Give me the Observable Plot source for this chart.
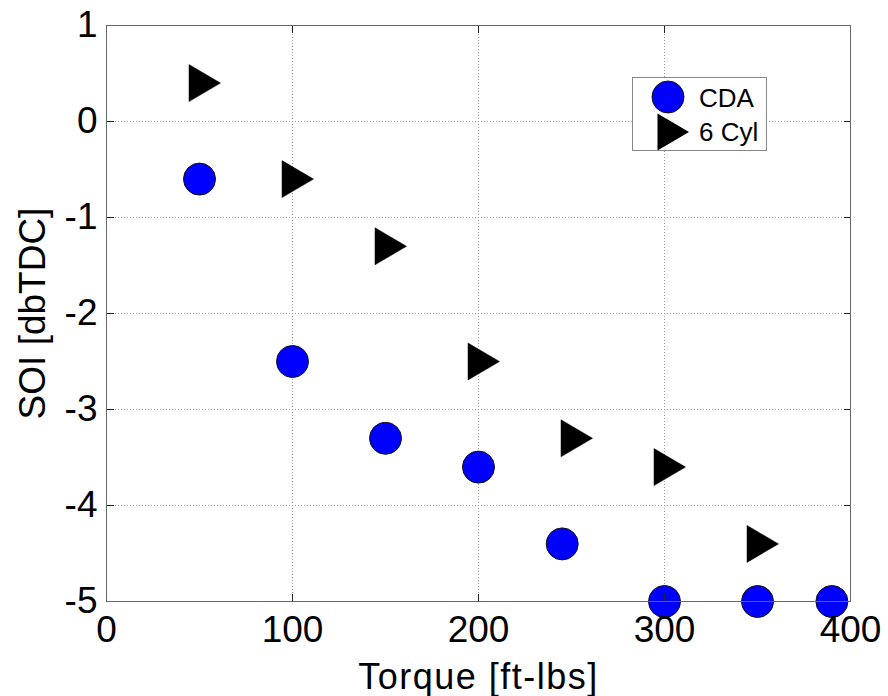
<!DOCTYPE html>
<html>
<head>
<meta charset="utf-8">
<script src="https://cdn.jsdelivr.net/npm/d3@7"></script>
<script src="https://cdn.jsdelivr.net/npm/@observablehq/plot@0.6"></script>
<style>
  html, body { margin: 0; padding: 0; background: #fff; }
  #wrap { position: relative; width: 888px; height: 696px; }
  #legend { position: absolute; left: 632px; top: 77px; width: 135px; height: 74px;
            background: #fff; border: 1px solid #888; box-sizing: border-box; }
  #legend svg { display: block; }
</style>
</head>
<body>
<div id="wrap"></div>
<script>
// ---- data ----
const seriesNames = ["CDA", "6 Cyl"];
const torqueCDA = [50, 100, 150, 200, 245, 300, 350, 390];
const soiCDA = [-0.6, -2.5, -3.3, -3.6, -4.4, -5, -5, -5];
const torque6Cyl = [50, 100, 150, 200, 250, 300, 350];
const soi6Cyl = [0.4, -0.6, -1.3, -2.5, -3.3, -3.6, -4.4];
const xTicks = [0, 100, 200, 300, 400];
const yTicks = [-5, -4, -3, -2, -1, 0, 1];
const xLabel = "Torque [ft-lbs]";
const yLabel = "SOI [dbTDC]";

const cda = torqueCDA.map((t, i) => ({torque: t, soi: soiCDA[i], series: seriesNames[0]}));
const cyl = torque6Cyl.map((t, i) => ({torque: t, soi: soi6Cyl[i], series: seriesNames[1]}));

// right-pointing triangle, centroid at origin
const triRight = {
  draw(context) {
    context.moveTo(-10.5, -18.5);
    context.lineTo(21, 0);
    context.lineTo(-10.5, 18.5);
    context.closePath();
  }
};

const font = "Liberation Sans, Arial, Helvetica, sans-serif";
const grid = {stroke: "#9a9a9a", strokeOpacity: 1, strokeDasharray: "1,2", strokeWidth: 1};
const noText = () => "";
const fmt = d => String(d);

const chart = Plot.plot({
  width: 888,
  height: 696,
  marginLeft: 106,
  marginRight: 38,
  marginTop: 25,
  marginBottom: 95,
  style: {fontFamily: font, fontSize: "37px", color: "#000", background: "#fff"},
  x: {domain: [0, 400], ticks: xTicks, label: null},
  y: {domain: [-5, 1], ticks: yTicks, label: null},
  marks: [
    Plot.gridX(xTicks, grid),
    Plot.gridY(yTicks, grid),
    Plot.dot(cda, {x: "torque", y: "soi", r: 16, fill: "#0000ff", stroke: "#111", strokeWidth: 1}),
    Plot.dot(cyl, {x: "torque", y: "soi", r: 16, symbol: triRight, fill: "#000", stroke: "#000", strokeWidth: 0.5}),
    Plot.axisX(xTicks, {anchor: "bottom", tickSize: 0, tickPadding: 14, label: null, fontSize: 37, tickFormat: fmt}),
    Plot.axisY(yTicks, {anchor: "left", tickSize: 0, tickPadding: 9, label: null, fontSize: 37, tickFormat: fmt}),
    Plot.axisX(xTicks, {anchor: "bottom", tickSize: 7, dy: -7, stroke: "#222", tickFormat: noText, label: null}),
    Plot.axisX(xTicks, {anchor: "top", tickSize: 7, dy: 7, stroke: "#222", tickFormat: noText, label: null}),
    Plot.axisY(yTicks, {anchor: "left", tickSize: 8, dx: 8, stroke: "#222", tickFormat: noText, label: null}),
    Plot.axisY(yTicks, {anchor: "right", tickSize: 7, dx: -7, stroke: "#222", tickFormat: noText, label: null}),
    Plot.text([xLabel], {frameAnchor: "bottom", textAnchor: "middle", lineAnchor: "bottom", dy: 87,
                         fontSize: 36, fill: "#000", style: "letter-spacing:1.5px"}),
    Plot.text([yLabel], {frameAnchor: "left", textAnchor: "middle", lineAnchor: "middle", rotate: -90,
                         dx: -73, fontSize: 37, fill: "#000"}),
    Plot.frame({stroke: "#666", strokeWidth: 1})
  ]
});

const wrap = document.getElementById("wrap");
wrap.appendChild(chart);
// letter spacing for the x label
d3.select(chart).selectAll("text").filter(function() { return this.textContent === xLabel; })
  .style("letter-spacing", "1.5px");

// legend overlay
const legend = document.createElement("div");
legend.id = "legend";
const lsvg = d3.create("svg").attr("width", 133).attr("height", 72);
const rows = [
  {name: seriesNames[0], cy: 20},
  {name: seriesNames[1], cy: 54}
];
lsvg.append("circle").attr("cx", 35).attr("cy", rows[0].cy - 1).attr("r", 16)
  .attr("fill", "#0000ff").attr("stroke", "#111");
lsvg.append("path").attr("d", d3.symbol(triRight)()).attr("transform", `translate(35,${rows[1].cy})`)
  .attr("fill", "#000");
rows.forEach(r => {
  lsvg.append("text").attr("x", 66).attr("y", r.cy + 9).attr("font-family", font)
    .attr("font-size", 26).attr("fill", "#000").text(r.name);
});
legend.appendChild(lsvg.node());
wrap.appendChild(legend);
</script>
</body>
</html>
